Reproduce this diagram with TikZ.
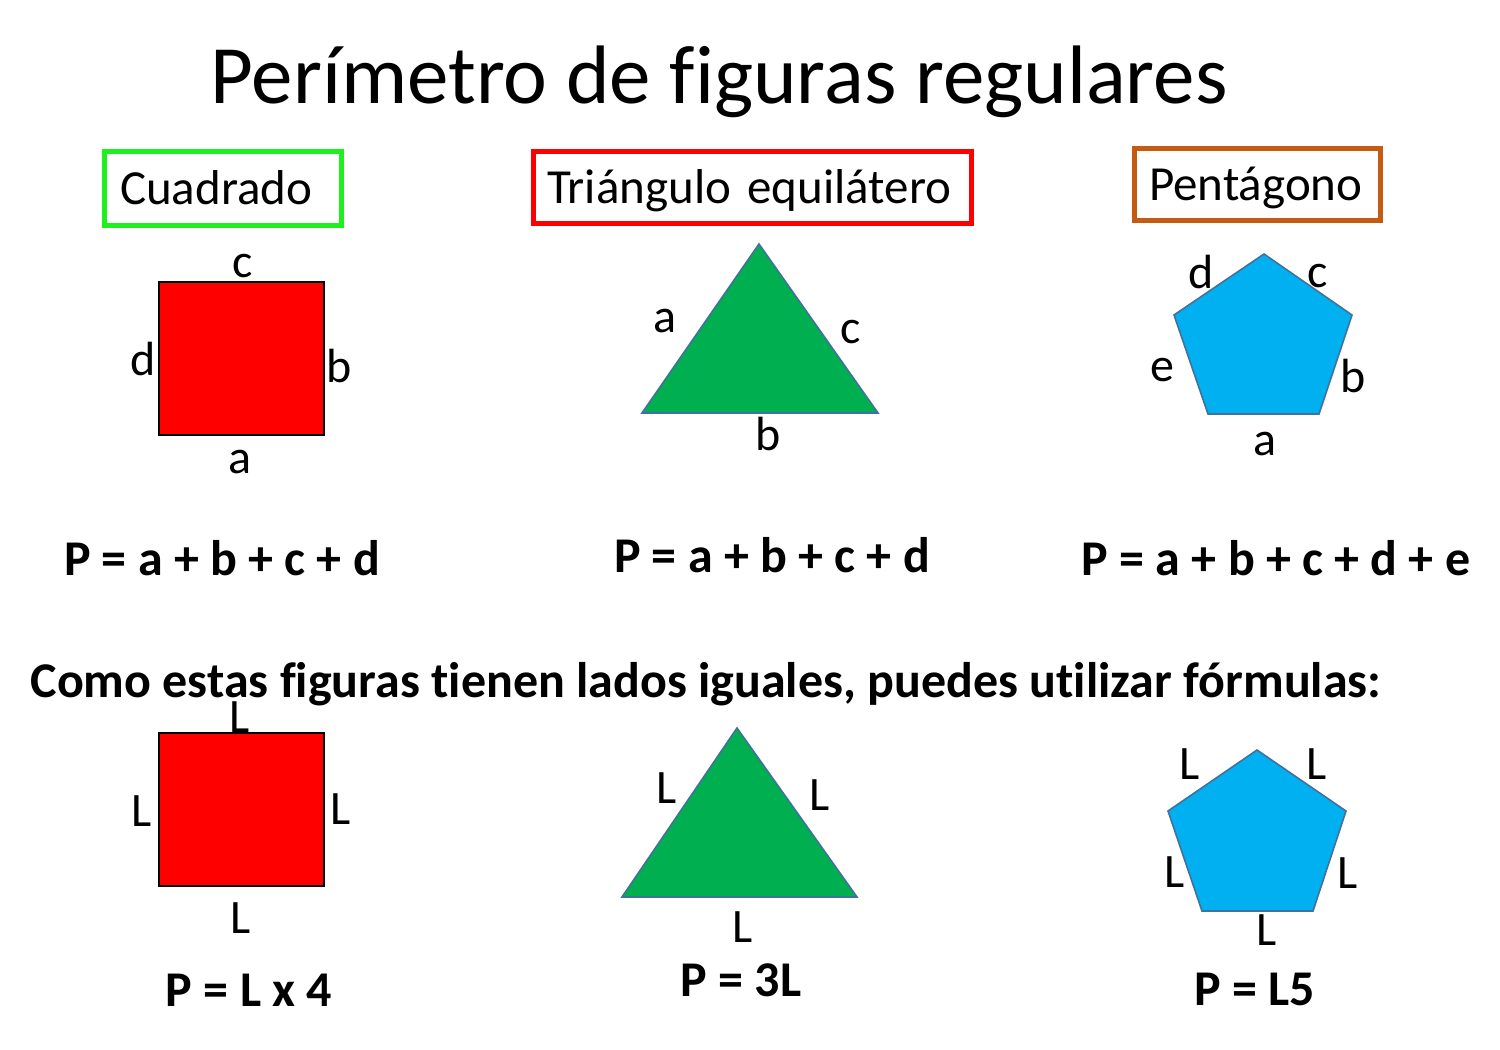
\documentclass[tikz,border=0pt]{standalone}
\usepackage{fontspec}
\setmainfont{Carlito}[Ligatures=NoCommon]
\definecolor{boxgreen}{RGB}{30,240,30}
\definecolor{boxred}{RGB}{255,0,0}
\definecolor{boxorange}{RGB}{197,90,17}
\definecolor{sqred}{RGB}{255,0,0}
\definecolor{trigreen}{RGB}{0,176,80}
\definecolor{penblue}{RGB}{0,176,240}
\definecolor{edgeblue}{RGB}{65,113,156}
\tikzset{
  lbl/.style={anchor=base, inner sep=0pt, font=\fontsize{24}{29}\selectfont},
  frm/.style={anchor=base, inner sep=0pt, font=\fontsize{25}{30}\selectfont\bfseries},
  titlebox/.style={draw, line width=2.5pt, align=left, inner ysep=0pt,
    text height=19.5pt, text depth=3.5pt, font=\fontsize{24.5}{29}\selectfont},
  square/.style={fill=sqred, draw=black, line width=1pt},
  tri/.style={fill=trigreen, draw=edgeblue, line width=0.8pt},
  pent/.style={fill=penblue, draw=edgeblue, line width=0.8pt}
}
\begin{document}
\begin{tikzpicture}[x=0.5pt, y=-0.5pt]
\useasboundingbox (0,0) rectangle (1500,1050);
\fill[white] (0,0) rectangle (1500,1050);

\node[anchor=base, inner sep=0pt, font=\fontsize{41.5}{50}\selectfont] (title) at (719,103) {Perímetro de figuras regulares};

% header boxes
\node[titlebox, draw=boxgreen, inner xsep=7.75pt, text width=103pt, minimum height=37pt] (hcuad) at (223,188) {Cuadrado};
\node[titlebox, draw=boxred, inner xsep=7pt, text width=205pt, minimum height=36pt] (htri) at (752,187) {Triángulo equilátero};
\node[titlebox, draw=boxorange, inner xsep=7.5pt, text width=108pt, minimum height=36pt] (hpent) at (1257,184) {Pentágono};

% first row shapes
\draw[square] (159,282) rectangle (324,435);
\draw[tri] (759,244) -- (878,413) -- (642,413) -- cycle;
\draw[pent] (1264,254) -- (1352,315) -- (1319,414) -- (1208,414) -- (1174,315) -- cycle;

\node[lbl] (sqc) at (243,277) {c};
\node[lbl] (sqd) at (143,375) {d};
\node[lbl] (sqb) at (339,382) {b};
\node[lbl] (sqa) at (240,473) {a};

\node[lbl] (tra) at (665,332) {a};
\node[lbl] (trc) at (851,343) {c};
\node[lbl] (trb) at (768,450) {b};

\node[lbl] (ped) at (1201,288) {d};
\node[lbl] (pec) at (1318,287) {c};
\node[lbl] (pee) at (1162,381) {e};
\node[lbl] (peb) at (1353,392) {b};
\node[lbl] (pea) at (1265,455) {a};

\node[frm] (f1) at (222,575) {P = a + b + c + d};
\node[frm] (f2) at (772,572) {P = a + b + c + d};
\node[frm] (f3) at (1276,575) {P = a + b + c + d + e};

\node[frm] (como) at (706,697) {Como estas figuras tienen lados iguales, puedes utilizar fórmulas:};

% second row shapes
\draw[square] (159,733) rectangle (324,886);
\draw[tri] (737,728) -- (857,897) -- (622,897) -- cycle;
\draw[pent] (1257,750) -- (1346,811) -- (1313,911) -- (1202,911) -- (1168,811) -- cycle;

\node[lbl] (sl1) at (240,732) {L};
\node[lbl] (sl2) at (142,826) {L};
\node[lbl] (sl3) at (341,824) {L};
\node[lbl] (sl4) at (241,933) {L};

\node[lbl] (tl1) at (667,803) {L};
\node[lbl] (tl2) at (820,810) {L};
\node[lbl] (tl3) at (743,942) {L};

\node[lbl] (pl1) at (1190,779) {L};
\node[lbl] (pl2) at (1317,779) {L};
\node[lbl] (pl3) at (1175,887) {L};
\node[lbl] (pl4) at (1348,888) {L};
\node[lbl] (pl5) at (1267,945) {L};

\node[frm] (g1) at (249,1006) {P = L x 4};
\node[frm] (g2) at (741,996) {P = 3L};
\node[frm] (g3) at (1255,1005) {P = L5};
\end{tikzpicture}
\end{document}
